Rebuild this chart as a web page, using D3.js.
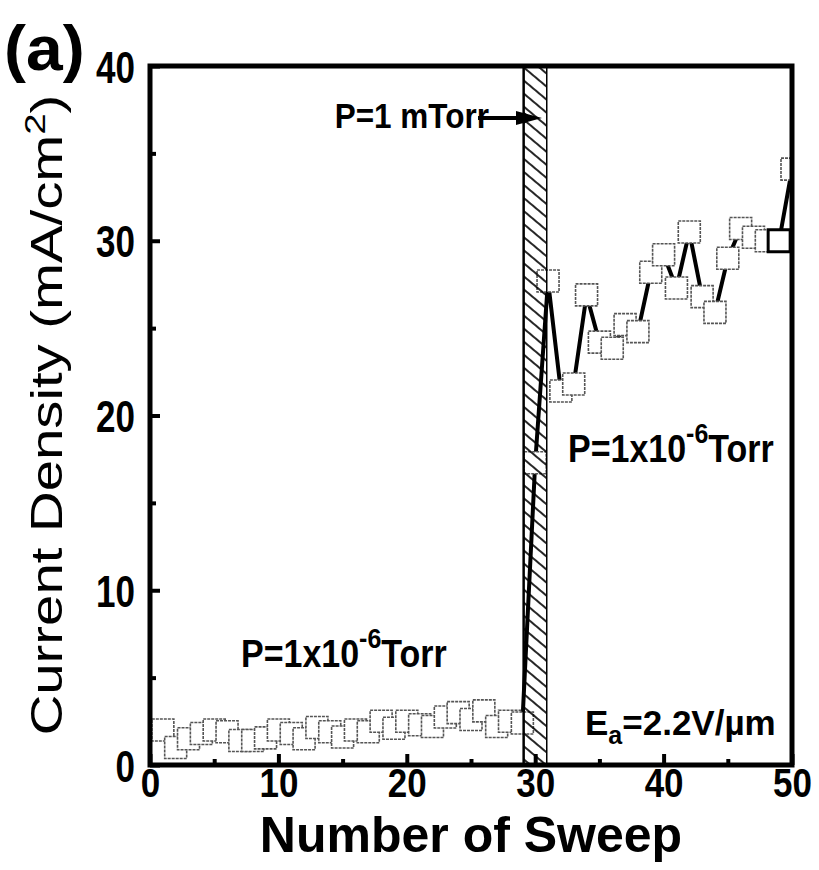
<!DOCTYPE html>
<html>
<head>
<meta charset="utf-8">
<script src="https://cdn.jsdelivr.net/npm/d3@7/dist/d3.min.js"></script>
<style>
  html, body { margin: 0; padding: 0; background: #fff; }
  svg { display: block; }
  text { font-family: "Liberation Sans", Arial, sans-serif; fill: #000; }
</style>
</head>
<body>
<svg id="chart" width="819" height="870"></svg>
<script>
// ---- data ----
const sweeps = d3.range(1, 51);
const currentDensity = [
  2.0, 1.0, 1.5, 1.8, 2.0, 1.9, 1.4, 1.4, 1.55, 2.0,
  1.8, 1.5, 2.15, 1.9, 1.6, 2.0, 1.9, 2.5, 2.1, 2.5,
  2.3, 2.2, 2.75, 3.0, 2.6, 3.1, 2.2, 2.5, 2.4, 17.3,
  27.7, 21.4, 21.8, 26.9, 24.2, 23.85, 25.2, 24.8, 28.2, 29.2,
  27.3, 30.5, 26.8, 25.9, 29.0, 30.7, 30.2, 30.0, 30.0, 34.1
];
const xTicks = [0, 10, 20, 30, 40, 50];
const xMinor = [5, 15, 25, 35, 45];
const yTicks = [0, 10, 20, 30, 40];
const yMinor = [5, 15, 25, 35];
const bandRange = [29.1, 30.9];   // P = 1 mTorr exposure

const svg = d3.select("#chart");
const L = 150, R = 792, T = 66, B = 765;
const x = d3.scaleLinear().domain([0, 50]).range([L, R]);
const y = d3.scaleLinear().domain([0, 40]).range([B, T]);

const defs = svg.append("defs");
defs.append("clipPath").attr("id", "clip")
  .append("rect").attr("x", L).attr("y", T).attr("width", R - L).attr("height", B - T);
const pat = defs.append("pattern").attr("id", "hatch")
  .attr("patternUnits", "userSpaceOnUse").attr("width", 10).attr("height", 10)
  .attr("patternTransform", "rotate(40)");
pat.append("path").attr("d", "M-1,5 L11,5").attr("stroke", "#000").attr("stroke-width", 1.7);

const plot = svg.append("g").attr("clip-path", "url(#clip)");

// connecting line
plot.append("path")
  .datum(sweeps.map((s, i) => [s, currentDensity[i]]))
  .attr("fill", "none").attr("stroke", "#000").attr("stroke-width", 4)
  .attr("stroke-linejoin", "round")
  .attr("d", d3.line().x(d => x(d[0])).y(d => y(d[1])));

// square markers
const S = 22;
plot.selectAll("rect.pt").data(sweeps.map((s, i) => [s, currentDensity[i]]))
  .join("rect").attr("class", "pt")
  .attr("x", d => x(d[0]) - S / 2).attr("y", d => y(d[1]) - S / 2)
  .attr("width", S).attr("height", S)
  .attr("fill", "#fff")
  .attr("stroke", (d, i) => i === 48 ? "#000" : "#555")
  .attr("stroke-width", (d, i) => i === 48 ? 3 : 1.6)
  .attr("stroke-dasharray", (d, i) => i === 48 ? null : "3,1");

// hatched band
plot.append("rect")
  .attr("x", x(bandRange[0])).attr("y", T)
  .attr("width", x(bandRange[1]) - x(bandRange[0])).attr("height", B - T)
  .attr("fill", "url(#hatch)");
plot.append("line").attr("x1", x(bandRange[0])).attr("x2", x(bandRange[0]))
  .attr("y1", T).attr("y2", B).attr("stroke", "#000").attr("stroke-width", 2.5);
plot.append("line").attr("x1", x(bandRange[1])).attr("x2", x(bandRange[1]))
  .attr("y1", T).attr("y2", B).attr("stroke", "#000").attr("stroke-width", 1.5);

// ---- axes ----
const ax = svg.append("g");
const xAxis = ax.append("g").attr("transform", `translate(0,${B})`)
  .call(d3.axisBottom(x).tickValues(xTicks).tickSize(-11).tickPadding(3).tickFormat(d3.format("d")));
const xAxisMinor = ax.append("g").attr("transform", `translate(0,${B})`)
  .call(d3.axisBottom(x).tickValues(xMinor).tickSize(-6).tickFormat(""));
const yAxis = ax.append("g").attr("transform", `translate(${L},0)`)
  .call(d3.axisLeft(y).tickValues(yTicks).tickSize(-10).tickPadding(15).tickFormat(d3.format("d")));
const yAxisMinor = ax.append("g").attr("transform", `translate(${L},0)`)
  .call(d3.axisLeft(y).tickValues(yMinor).tickSize(-6).tickFormat(""));
ax.selectAll(".domain").remove();
ax.selectAll(".tick line").attr("stroke", "#000").attr("stroke-width", 4);
xAxis.selectAll(".tick text")
  .attr("font-size", 35).attr("font-weight", "bold").attr("dy", "0.72em")
  .attr("transform", "scale(1,1.15)");
yAxis.selectAll(".tick text")
  .attr("font-size", 35).attr("font-weight", "bold").attr("dy", "0.36em")
  .attr("transform", "scale(1,1.28)");

// frame
svg.append("rect").attr("x", L).attr("y", T).attr("width", R - L).attr("height", B - T)
  .attr("fill", "none").attr("stroke", "#000").attr("stroke-width", 5);

// ---- titles ----
svg.append("text").attr("transform", `translate(471,852)`)
  .attr("text-anchor", "middle").attr("font-size", 50).attr("font-weight", "bold")
  .text("Number of Sweep");

const yt = svg.append("text").attr("transform", `translate(62,415) rotate(-90) scale(1.28,1)`)
  .attr("text-anchor", "middle").attr("font-size", 44);
yt.append("tspan").text("Current Density (mA/cm");
yt.append("tspan").attr("dy", -17).attr("font-size", 30).text("2");
yt.append("tspan").attr("dy", 17).text(")");

svg.append("text").attr("transform", `translate(4,70) scale(1.1,1.05)`)
  .attr("font-size", 60).attr("font-weight", "bold").text("(a)");

// ---- annotations ----
svg.append("text").attr("transform", `translate(489,128) scale(1,1.12)`)
  .attr("text-anchor", "end").attr("font-size", 31.5).attr("font-weight", "bold")
  .text("P=1 mTorr");
svg.append("line").attr("x1", 478).attr("x2", 528).attr("y1", 118).attr("y2", 118)
  .attr("stroke", "#000").attr("stroke-width", 4);
svg.append("path").attr("d", "M516,111 L542,118 L516,125 Z").attr("fill", "#000");
svg.append("path").attr("d", "M516,118 L524,112 L532,118 L524,124 Z").attr("fill", "#000");

function pressLabel(tx, ty) {
  const t = svg.append("text").attr("transform", `translate(${tx},${ty}) scale(1,1.12)`)
    .attr("font-size", 34).attr("font-weight", "bold");
  t.append("tspan").text("P=1x10");
  t.append("tspan").attr("dy", -17).attr("font-size", 25).text("-6");
  t.append("tspan").attr("dy", 17).text("Torr");
}
pressLabel(241, 667);
pressLabel(568, 462);

const ea = svg.append("text").attr("transform", `translate(585,735)`)
  .attr("font-size", 35).attr("font-weight", "bold");
ea.append("tspan").text("E");
ea.append("tspan").attr("dy", 9).attr("font-size", 25).text("a");
ea.append("tspan").attr("dy", -9).text("=2.2V/\u00B5m");
</script>
</body>
</html>
